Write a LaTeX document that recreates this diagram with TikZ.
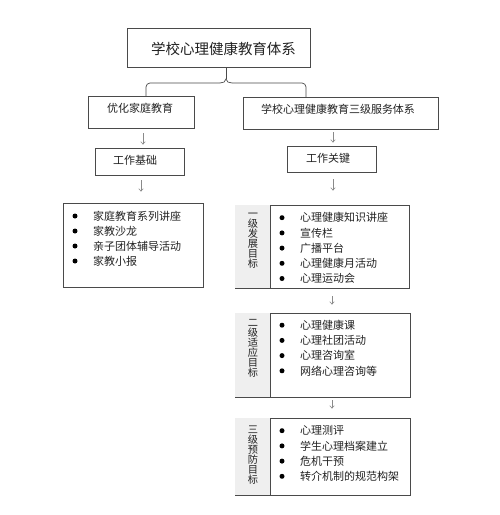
\documentclass[tikz,border=0pt]{standalone}
\usepackage{fontspec}
\setmainfont{Noto Sans CJK SC}
\usetikzlibrary{arrows.meta}
\definecolor{ln}{HTML}{4A4A4A}
\definecolor{ar}{HTML}{8A8A8A}
\definecolor{cell}{HTML}{EFEFEF}
\definecolor{tx}{HTML}{222222}
\begin{document}
\begin{tikzpicture}[x=1pt,y=-1pt,
  box/.style={draw=ln,line width=0.8pt,rectangle,inner sep=0pt,fill=white},
  txt/.style={inner sep=0pt,text=tx,font=\fontsize{11}{13}\selectfont},
  vtxt/.style={inner sep=0pt,text=tx,align=center,font=\fontsize{10.2}{10}\selectfont},
  arr/.style={draw=ar,line width=0.6pt,-{Straight Barb[length=2.5pt,width=4.5pt]}},
  bul/.style={circle,fill=black,inner sep=0pt,minimum size=5pt},
  conn/.style={draw=ln,line width=0.7pt}]
\useasboundingbox (0,0) rectangle (500,515);
\fill[white] (0,0) rectangle (500,515);

% top box
\node[box,minimum width=183pt,minimum height=39pt] (top) at (218.5,47.5) {};
\node[inner sep=0pt,text=tx,font=\fontsize{14.5}{16}\selectfont] (toptx) at (223.5,49) {学校心理健康教育体系};

% second level
\node[box,minimum width=106pt,minimum height=32pt] (lbox) at (141,112) {};
\node[txt] (lboxtx) at (140,108.5) {优化家庭教育};
\node[box,minimum width=195pt,minimum height=32pt] (rbox) at (340.5,113) {};
\node[txt] (rboxtx) at (338,109.5) {学校心理健康教育三级服务体系};

% brace
\coordinate (bl) at (146,96);
\coordinate (br) at (306,97);
\coordinate (bt) at (226,79);
\draw[conn] (top.south -| bt) -- (bt);
\draw[conn,rounded corners=4pt] (bl) -- (146,83) -- (220,83);
\draw[conn] (220,83) to[out=0,in=-90] (bt) to[out=-90,in=180] (232,83);
\draw[conn,rounded corners=4pt] (232,83) -- (306,83) -- (br);

% third level
\node[box,minimum width=89pt,minimum height=27pt] (jc) at (139.5,161.5) {};
\node[txt] (jctx) at (135,160.5) {工作基础};
\node[box,minimum width=89pt,minimum height=26pt] (gj) at (331.5,159) {};
\node[txt] (gjtx) at (328,158) {工作关键};

\draw[arr,shorten <=5pt,shorten >=3pt] (lbox.south -| 143,0) -- (jc.north -| 143,0);
\draw[arr,shorten <=3pt,shorten >=3pt] (rbox.south -| 333,0) -- (gj.north -| 333,0);

% left list
\node[box,minimum width=140pt,minimum height=84pt] (llist) at (133,245) {};
\draw[arr,shorten <=5pt,shorten >=11pt] (jc.south -| 141,0) -- (llist.north -| 141,0);
\foreach \t [count=\i] in {家庭教育系列讲座,家教沙龙,亲子团体辅导活动,家教小报}{
  \node[bul] (lb\i) at (75,201+\i*15) {};
  \node[txt,anchor=west] (lt\i) at (93,201+\i*15) {\t};
}

% level boxes
\node[box,minimum width=174pt,minimum height=83pt] (b1) at (322,246.5) {};
\fill[cell] ([shift={(0.4,0.4)}]b1.north west) rectangle (270,287.6);
\draw[ln,line width=0.8pt] (270,205) -- (270,288);
\node[vtxt] (v1) at (253,240.5) {一\\级\\发\\展\\目\\标};
\foreach \t [count=\i] in {心理健康知识讲座,宣传栏,广播平台,心理健康月活动,心理运动会}{
  \node[bul] (ab\i) at (282,202.5+\i*15.2) {};
  \node[txt,anchor=west] (at\i) at (300,202.5+\i*15.2) {\t};
}

\node[box,minimum width=175pt,minimum height=84pt] (b2) at (322.5,355) {};
\fill[cell] ([shift={(0.4,0.4)}]b2.north west) rectangle (270,396.6);
\draw[ln,line width=0.8pt] (270,313) -- (270,397);
\node[vtxt] (v2) at (253,348) {二\\级\\适\\应\\目\\标};
\foreach \t [count=\i] in {心理健康课,心理社团活动,心理咨询室,网络心理咨询等}{
  \node[bul] (bb\i) at (282,310+\i*15.2) {};
  \node[txt,anchor=west] (bt\i) at (300,310+\i*15.2) {\t};
}

\node[box,minimum width=175pt,minimum height=77pt] (b3) at (322.5,456.5) {};
\fill[cell] ([shift={(0.4,0.4)}]b3.north west) rectangle (270,494.6);
\draw[ln,line width=0.8pt] (270,418) -- (270,495);
\node[vtxt] (v3) at (253,455) {三\\级\\预\\防\\目\\标};
\foreach \t [count=\i] in {心理测评,学生心理档案建立,危机干预,转介机制的规范构架}{
  \node[bul] (cb\i) at (282,415.5+\i*15.2) {};
  \node[txt,anchor=west] (ct\i) at (300,415.5+\i*15.2) {\t};
}

\draw[arr,shorten <=7pt,shorten >=14pt] (gj.south -| 333,0) -- (b1.north -| 333,0);
\draw[arr,shorten <=8pt,shorten >=8pt] (b1.south -| 332,0) -- (b2.north -| 332,0);
\draw[arr,shorten <=3pt,shorten >=9pt] (b2.south -| 332,0) -- (b3.north -| 332,0);
\end{tikzpicture}
\end{document}
